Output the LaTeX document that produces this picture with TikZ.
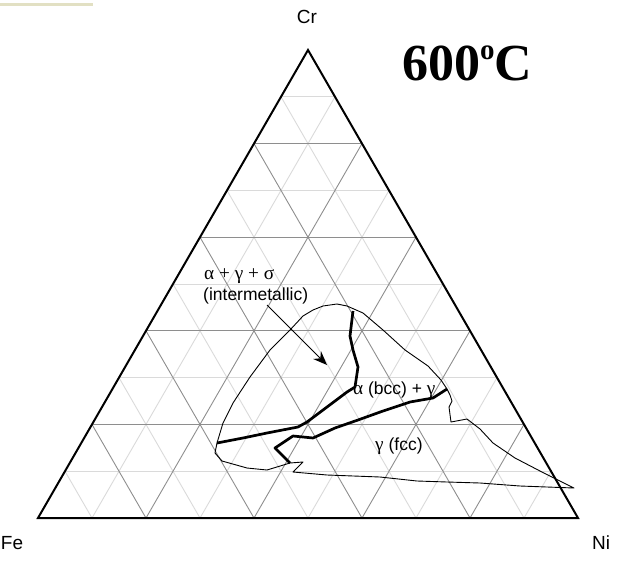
\documentclass[tikz,border=0pt]{standalone}
\usepackage{fontspec}
\setmainfont{Liberation Sans}
\newfontfamily\seriffont[Scale=1.1]{Liberation Serif}
\newfontfamily\titlefont{Liberation Serif}
\usetikzlibrary{calc,arrows.meta}
\definecolor{gridd}{HTML}{8E8E8E}
\definecolor{gridl}{HTML}{DADADA}
\definecolor{barcol}{HTML}{E2E0C3}
\begin{document}
\begin{tikzpicture}[x=1pt,y=-1pt,
  triedge/.style={line width=2pt, black, line join=miter},
  gridlight/.style={gridl, line width=0.9pt},
  griddark/.style={gridd, line width=0.9pt},
  outlinecurve/.style={black, line width=0.9pt, line join=round},
  boundcurve/.style={black, line width=2.7pt, line join=round},
  lbl/.style={font=\fontsize{17.5}{17.5}\selectfont, inner sep=0pt},
  corner/.style={font=\fontsize{19}{19}\selectfont, inner sep=0pt}]
\useasboundingbox (0,0) rectangle (632,560);
\fill[barcol] (0,3) rectangle (93,6);
\coordinate (A) at (38,518);
\coordinate (B) at (578,518);
\coordinate (C) at (308,50);
% grid
\foreach \i in {1,3,5,7,9} {
  \draw[gridlight] ($(A)!\i*0.1!(C)$) -- ($(B)!\i*0.1!(C)$);
  \draw[gridlight] ($(A)!\i*0.1!(B)$) -- ($(C)!\i*0.1!(B)$);
  \draw[gridlight] ($(B)!\i*0.1!(A)$) -- ($(C)!\i*0.1!(A)$);
}
\foreach \i in {2,4,6,8} {
  \draw[griddark] ($(A)!\i*0.1!(C)$) -- ($(B)!\i*0.1!(C)$);
  \draw[griddark] ($(A)!\i*0.1!(B)$) -- ($(C)!\i*0.1!(B)$);
  \draw[griddark] ($(B)!\i*0.1!(A)$) -- ($(C)!\i*0.1!(A)$);
}
\draw[triedge] (A) -- (B) -- (C) -- cycle;
% region outline
\draw[outlinecurve] (337,304) -- (347,306) -- (363,313) -- (383,330) -- (405,350)
  -- (428,366) -- (441,380) -- (447,389) -- (450,395) -- (452,401) -- (449,407)
  -- (451,422) -- (467,419) -- (480,429) -- (493,443) -- (515,458) -- (540,471)
  -- (560,481) -- (574,488) -- (520,486) -- (480,483) -- (447,482) -- (417,481)
  -- (380,477) -- (327,475) -- (293,472) -- (303,462) -- (290,463) -- (267,470)
  -- (247,468) -- (222,461) -- (215,453) -- (217,443) -- (223,423) -- (233,403)
  -- (250,377) -- (270,350) -- (290,330) -- (303,316) -- (313,310) -- (323,306)
  -- cycle;
% phase boundaries
\draw[boundcurve] (353,311) -- (350,336) -- (353,350) -- (358,367) -- (355,387)
  -- (347,392) -- (327,407) -- (307,422) -- (298,427) -- (267,433) -- (243,438)
  -- (217,443);
\draw[boundcurve] (447,389) -- (433,398) -- (410,402) -- (383,411) -- (358,420)
  -- (335,428) -- (313,438) -- (293,436) -- (275,448) -- (290,463);
% labels
\node[corner] (cr) at (307,17) {Cr};
\node[corner] (fe) at (12,543) {Fe};
\node[corner] (ni) at (601,543) {Ni};
\node[anchor=base west, inner sep=0pt, font=\titlefont\bfseries\fontsize{52}{52}\selectfont] (title) at (402,80)
  {600\raisebox{21pt}{\fontsize{29}{29}\selectfont o}C};
\node[lbl, anchor=base west] (l1) at (204,279) {\seriffont α + γ + σ};
\node[lbl, anchor=base west] (l2) at (203,300) {(intermetallic)};
\node[lbl, anchor=base west] (l3) at (353,394) {{\seriffont α} (bcc) + {\seriffont γ}};
\node[lbl, anchor=base west] (l4) at (375,450) {{\seriffont γ} (fcc)};
\coordinate (arrs) at (267,305);
\coordinate (arre) at (327,365);
\draw[line width=1pt, -{Stealth[length=14pt,width=11pt]}] (arrs) -- (arre);
\end{tikzpicture}
\end{document}
